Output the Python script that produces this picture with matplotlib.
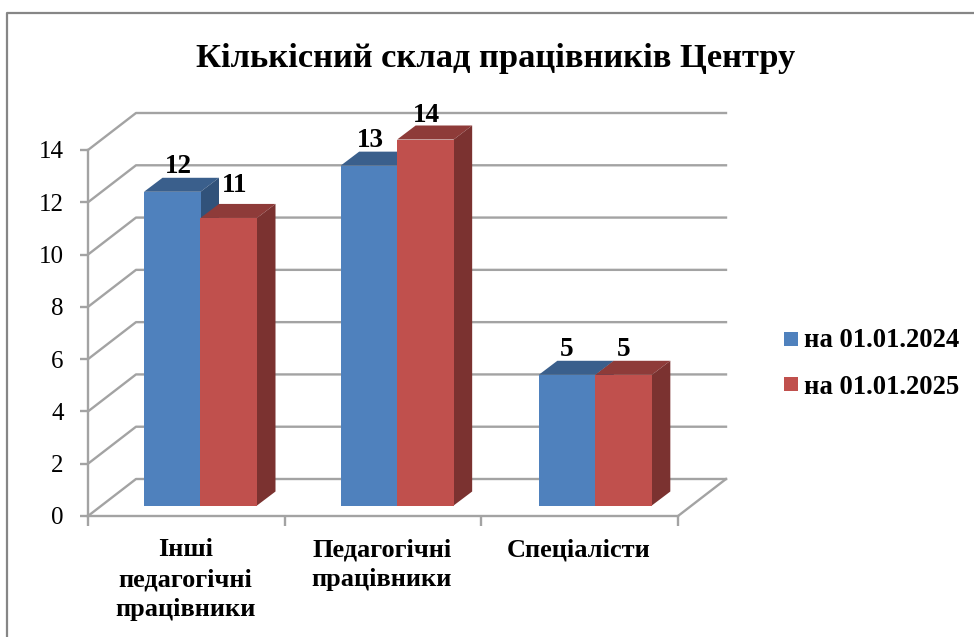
import matplotlib
matplotlib.use("Agg")
import matplotlib.pyplot as plt
from matplotlib.patches import Polygon, Rectangle
from matplotlib.lines import Line2D

categories = ["Інші\nпедагогічні\nпрацівники", "Педагогічні\nпрацівники", "Спеціалісти"]
series_names = ["на 01.01.2024", "на 01.01.2025"]
values_2024 = [12, 13, 5]
values_2025 = [11, 14, 5]
y_ticks = [0, 2, 4, 6, 8, 10, 12, 14]

W, H = 974, 637
SERIF = "Liberation Serif"
GRID = "#a3a3a3"
LW = 1.7
BLUE = ("#4f81bd", "#3a5f8c", "#31527a")
RED = ("#c0504d", "#8e3b39", "#7b3230")

fig = plt.figure(figsize=(W / 100, H / 100), dpi=100)

left, right, top, bottom = 88, 678, 150, 516
ax = fig.add_axes([left / W, 1 - bottom / H, (right - left) / W, (bottom - top) / H])
ax.set_xlim(0, 3)
ax.set_ylim(0, 14)
ax.patch.set_visible(False)

# зсув "глибини" у одиницях даних
px_x = 3 / (right - left)
px_y = 14 / (bottom - top)
wall_dx, wall_dy = 48 * px_x, 37 * px_y

# стінка і сітка
for t in y_ticks:
    ax.plot([0, wall_dx, 3 + wall_dx], [t, t + wall_dy, t + wall_dy], color=GRID, lw=LW,
            clip_on=False, zorder=1, solid_joinstyle="round")
ax.plot([3, 3 + wall_dx], [0, wall_dy], color=GRID, lw=LW, clip_on=False, zorder=1)

for s in ["top", "right"]:
    ax.spines[s].set_visible(False)
for s in ["left", "bottom"]:
    ax.spines[s].set_color(GRID)
    ax.spines[s].set_linewidth(LW)

ax.set_yticks(y_ticks)
ax.set_yticklabels([str(t) for t in y_ticks], fontfamily=SERIF, fontsize=18)
ax.tick_params(axis="y", length=6, width=LW, color=GRID, pad=11.5)
ax.set_xticks(range(4))
ax.set_xticklabels([])
ax.tick_params(axis="x", length=7, width=LW, color=GRID)

for i, name in enumerate(categories):
    ax.text(i + 0.5 - 0.005, -0.86, name, ha="center", va="top", fontfamily=SERIF,
            fontweight="bold", fontsize=19, linespacing=1.37, clip_on=False)


def bar3d(x0, x1, h, cols, base, d_x, d_y):
    ax.add_patch(Polygon([(x0, base + h), (x0 + d_x, base + h + d_y), (x1 + d_x, base + h + d_y), (x1, base + h)],
                         fc=cols[1], ec="none", clip_on=False, zorder=3))
    ax.add_patch(Polygon([(x1, base), (x1 + d_x, base + d_y), (x1 + d_x, base + h + d_y), (x1, base + h)],
                         fc=cols[2], ec="none", clip_on=False, zorder=3))
    ax.add_patch(Rectangle((x0, base), x1 - x0, h, fc=cols[0], ec="none", clip_on=False, zorder=4))


def label(x, h, dy):
    ax.text(x, base + h + dy * px_y, str(h), ha="center", va="bottom", fontfamily=SERIF,
            fontweight="bold", fontsize=19.5, zorder=6, clip_on=False)


base = 10.5 * px_y
d_x, d_y = 18.5 * px_x, 14 * px_y
bar_w = 56.5 * px_x
offset = 56 * px_x
group_nudge = [0, 0, 1.5]
label_dx = [6, 1, 0]
label_dy = [[13, 20], [13, 11], [13, 13]]

for i in range(3):
    x = i + offset + group_nudge[i] * px_x
    bar3d(x, x + bar_w, values_2024[i], BLUE, base, d_x, d_y)
    bar3d(x + bar_w, x + 2 * bar_w, values_2025[i], RED, base, d_x, d_y)
    label(x + bar_w / 2 + label_dx[i] * px_x, values_2024[i], label_dy[i][0])
    label(x + 1.5 * bar_w + label_dx[i] * px_x, values_2025[i], label_dy[i][1])

fig.text(496 / W, 1 - 59 / H, "Кількісний склад працівників Центру", ha="center", va="center",
         fontfamily=SERIF, fontweight="bold", fontsize=24.8)

# легенда
for name, col, py_box, py_txt in zip(series_names, [BLUE[0], RED[0]], [339, 384], [341, 387]):
    fig.add_artist(Rectangle((784 / W, 1 - (py_box + 7) / H), 14 / W, 14 / H, transform=fig.transFigure,
                             fc=col, ec="none"))
    fig.text(804 / W, 1 - py_txt / H, name, ha="left", va="center", fontfamily=SERIF,
             fontweight="bold", fontsize=19.2)

# зовнішня рамка (справа і знизу її немає)
fig.add_artist(Line2D([7 / W, 7 / W, 1], [0, 1 - 13 / H, 1 - 13 / H], transform=fig.transFigure,
                      color="#868686", lw=1.6))

fig.savefig("out.png", dpi=100)
